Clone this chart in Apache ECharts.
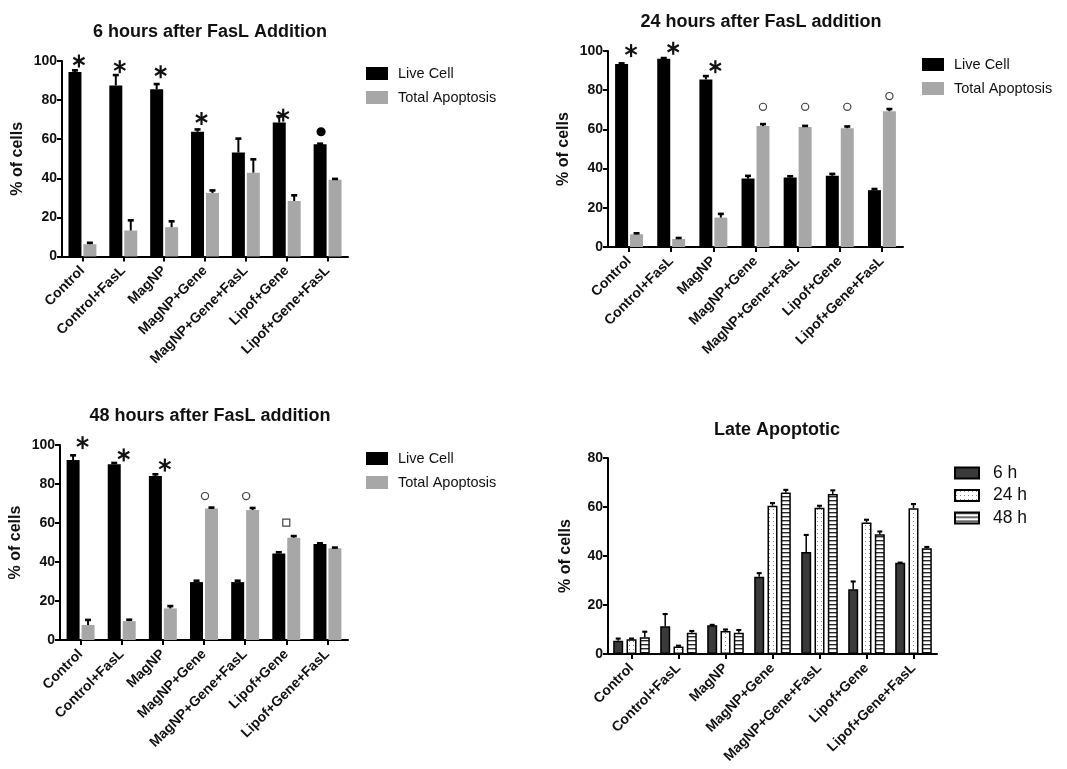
<!DOCTYPE html>
<html><head><meta charset="utf-8">
<script src="https://cdn.jsdelivr.net/npm/echarts@6/dist/echarts.min.js"></script>
<style>html,body{margin:0;padding:0;background:#fff}#c{width:1067px;height:769px}</style>
</head><body><div id="c"></div>
<script>
// ---------- data ----------
const categories = ['Control','Control+FasL','MagNP','MagNP+Gene','MagNP+Gene+FasL','Lipof+Gene','Lipof+Gene+FasL'];

const live6     = [94.4, 87.5, 85.5, 63.8, 53.2, 68.5, 57.4];
const live6Err  = [0.8, 5.3, 2.7, 1.2, 7.1, 3.3, 0.3];
const apop6     = [6.3, 13.3, 15.0, 32.5, 42.9, 28.4, 39.3];
const apop6Err  = [0.7, 5.2, 3.0, 1.3, 6.8, 2.9, 0.4];

const live24    = [93.4, 96.1, 85.5, 34.9, 35.4, 36.3, 29.0];
const live24Err = [0.3, 0.3, 1.7, 1.4, 0.7, 1.0, 0.6];
const apop24    = [6.5, 4.1, 15.0, 61.7, 61.2, 60.6, 69.3];
const apop24Err = [0.5, 0.5, 1.9, 1.0, 0.6, 0.9, 1.1];

const live48    = [92.3, 90.1, 84.1, 29.7, 29.7, 44.4, 49.2];
const live48Err = [2.4, 0.7, 0.9, 0.7, 0.7, 0.6, 0.4];
const apop48    = [7.7, 9.7, 16.2, 67.4, 66.7, 52.5, 47.0];
const apop48Err = [2.6, 0.7, 1.2, 0.5, 1.0, 0.8, 0.4];

const late6     = [5.4, 11.3, 11.7, 31.5, 41.6, 26.4, 37.2];
const late6Err  = [0.9, 5.0, 0.2, 1.5, 7.0, 3.2, 0.1];
const late24    = [6.0, 3.1, 9.4, 60.5, 59.7, 53.7, 59.5];
const late24Err = [0.3, 0.3, 0.6, 1.1, 0.8, 1.1, 1.7];
const late48    = [6.8, 8.7, 8.7, 65.9, 65.3, 48.9, 43.2];
const late48Err = [2.3, 0.7, 1.1, 1.1, 1.5, 1.1, 0.5];

// significance marks: [category index, y value]
const stars6    = [[0, 100.0], [1, 97.1], [2, 94.5], [3, 70.6], [5, 72.3]];
const dots6     = [[6, 63.8]];
const stars24   = [[0, 100.2], [1, 101.4], [2, 92.0]];
const rings24   = [[3, 71.5], [4, 71.5], [5, 71.5], [6, 77.0]];
const stars48   = [[0, 101.2], [1, 94.9], [2, 89.7]];
const rings48   = [[3, 73.8], [4, 73.8]];
const squares48 = [[5, 60.2]];

const titles = ['6 hours after FasL Addition', '24 hours after FasL addition', '48 hours after FasL addition', 'Late Apoptotic'];
const pairNames = ['Live Cell', 'Total Apoptosis'];
const lateNames = ['6 h', '24 h', '48 h'];
const yLabel = '% of cells';

// ---------- styling helpers ----------
const FONT = '"Liberation Sans", Arial, sans-serif';

function makePattern(kind) {
  const cv = document.createElement('canvas');
  cv.width = 4; cv.height = 4;
  const g = cv.getContext('2d');
  g.fillStyle = '#fff'; g.fillRect(0, 0, 4, 4);
  if (kind === 'dots') {
    g.fillStyle = '#8a8a8a'; g.fillRect(1, 1, 1, 1);
  } else {
    g.fillStyle = '#2a2a2a'; g.fillRect(0, 0, 4, 1.4);
  }
  return { image: cv, repeat: 'repeat' };
}

const grids = [
  { left: 62,  top: 61,  width: 286, height: 195.5 },
  { left: 608, top: 51,  width: 295, height: 196 },
  { left: 60,  top: 445, width: 288, height: 195 },
  { left: 608, top: 458, width: 329, height: 196 }
];
const yMax = [100, 100, 100, 80];
const nameGaps = [36, 36, 36, 34];

function errRender(offset, cap, lw) {
  return function (params, api) {
    const c = api.value(0), v = api.value(1), e = api.value(2);
    const p0 = api.coord([c, v]);
    const p1 = api.coord([c, v + e]);
    const x = p0[0] + offset;
    return { type: 'group', children: [
      { type: 'line', shape: { x1: x, y1: p0[1], x2: x, y2: p1[1] }, style: { stroke: '#000', lineWidth: lw } },
      { type: 'line', shape: { x1: x - cap / 2, y1: p1[1], x2: x + cap / 2, y2: p1[1] }, style: { stroke: '#000', lineWidth: lw + 0.6 } }
    ]};
  };
}

function markRender(kind, offset) {
  return function (params, api) {
    const p = api.coord([api.value(0), api.value(1)]);
    const x = p[0] + offset, y = p[1];
    if (kind === 'star') {
      const r = 6.5, ch = [];
      [90, 30, -30].forEach(a => {
        const rad = a * Math.PI / 180, dx = r * Math.cos(rad), dy = r * Math.sin(rad);
        ch.push({ type: 'line', shape: { x1: x - dx, y1: y - dy, x2: x + dx, y2: y + dy }, style: { stroke: '#111', lineWidth: 2.2 } });
      });
      return { type: 'group', children: ch };
    }
    if (kind === 'dot') return { type: 'circle', shape: { cx: x, cy: y, r: 4.6 }, style: { fill: '#000' } };
    if (kind === 'ring') return { type: 'circle', shape: { cx: x, cy: y, r: 3.6 }, style: { fill: 'none', stroke: '#444', lineWidth: 1.2 } };
    return { type: 'rect', shape: { x: x - 3.5, y: y - 3.5, width: 7, height: 7 }, style: { fill: 'none', stroke: '#444', lineWidth: 1.2 } };
  };
}

const xAxes = [], yAxes = [], series = [], titleOpts = [], legends = [];

grids.forEach((g, i) => {
  xAxes.push({
    type: 'category', gridIndex: i, data: categories,
    axisLine: { lineStyle: { color: '#000', width: 2 } },
    axisTick: { show: true, alignWithLabel: true, length: 5, lineStyle: { color: '#000', width: 2 } },
    axisLabel: { rotate: 45, interval: 0, margin: 12, color: '#111', fontFamily: FONT, fontWeight: 'bold', fontSize: 14 }
  });
  yAxes.push({
    type: 'value', gridIndex: i, min: 0, max: yMax[i], interval: 20,
    name: yLabel, nameLocation: 'middle', nameGap: nameGaps[i],
    nameTextStyle: { color: '#111', fontFamily: FONT, fontWeight: 'bold', fontSize: 16 },
    splitLine: { show: false },
    axisLine: { show: true, lineStyle: { color: '#000', width: 2 } },
    axisTick: { show: true, length: 5, lineStyle: { color: '#000', width: 2 } },
    axisLabel: { margin: 5, color: '#111', fontFamily: FONT, fontWeight: 'bold', fontSize: 14 }
  });
});

const titlePos = [[205, 18], [756, 8], [205, 402], [772, 416]];
titles.forEach((t, i) => titleOpts.push({
  text: t, left: titlePos[i][0], top: titlePos[i][1], textAlign: 'center',
  textStyle: { fontFamily: FONT, fontWeight: 'bold', fontSize: 18, color: '#111' }
}));

// pair panels
const pairData = [
  [live6, live6Err, apop6, apop6Err],
  [live24, live24Err, apop24, apop24Err],
  [live48, live48Err, apop48, apop48Err]
];
const pairColors = ['#000000', '#a7a7a7'];
const BW = 13, GAP = 0.15;
const pitch = BW * (1 + GAP);
pairData.forEach((d, i) => {
  [0, 1].forEach(k => {
    series.push({
      type: 'bar', name: pairNames[k], xAxisIndex: i, yAxisIndex: i,
      data: d[k * 2], barWidth: BW, barGap: (GAP * 100) + '%',
      itemStyle: { color: pairColors[k] }, z: 2
    });
  });
  [0, 1].forEach(k => {
    series.push({
      type: 'custom', name: 'err' + i + k, xAxisIndex: i, yAxisIndex: i, z: 3,
      renderItem: errRender((k - 0.5) * pitch, 6, 2),
      data: d[k * 2].map((v, j) => [j, v, d[k * 2 + 1][j]])
    });
  });
});

// marks
function addMarks(arr, kind, gi, offset) {
  series.push({ type: 'custom', name: 'mark' + gi + kind, xAxisIndex: gi, yAxisIndex: gi, z: 4, clip: false,
    renderItem: markRender(kind, offset), data: arr });
}
addMarks(stars6, 'star', 0, -3.5);
addMarks(dots6, 'dot', 0, -6.5);
addMarks(stars24, 'star', 1, 2);
addMarks(rings24, 'ring', 1, pitch / 2);
addMarks(stars48, 'star', 2, 2);
addMarks(rings48, 'ring', 2, 1);
addMarks(squares48, 'square', 2, 0);

// late apoptotic
const lateData = [[late6, late6Err], [late24, late24Err], [late48, late48Err]];
const lateFills = ['#3a3a3a', makePattern('dots'), makePattern('stripes')];
const LBW = 10, LGAP = 0.33, lpitch = LBW * (1 + LGAP);
lateData.forEach((d, k) => {
  series.push({
    type: 'bar', name: lateNames[k], xAxisIndex: 3, yAxisIndex: 3, data: d[0],
    barWidth: LBW, barGap: (LGAP * 100) + '%',
    itemStyle: { color: lateFills[k], borderColor: '#000', borderWidth: 1.5 }, z: 2
  });
});
lateData.forEach((d, k) => {
  series.push({
    type: 'custom', name: 'lerr' + k, xAxisIndex: 3, yAxisIndex: 3, z: 3,
    renderItem: errRender((k - 1) * lpitch, 5, 1.5),
    data: d[0].map((v, j) => [j, v, d[1][j]])
  });
});

const legendText = { fontFamily: FONT, fontSize: 14.5, color: '#111', padding: [0, 0, 0, 5] };
[[366, 66], [922, 57], [366, 451]].forEach(p => legends.push({
  data: pairNames, orient: 'vertical', left: p[0], top: p[1], icon: 'rect', padding: 0,
  itemWidth: 22, itemHeight: 13, itemGap: 9, textStyle: legendText, selectedMode: false
}));
legends.push({
  data: lateNames, orient: 'vertical', left: 954, top: 464, icon: 'rect', padding: 0,
  itemWidth: 24, itemHeight: 11, itemGap: 4.5,
  textStyle: { fontFamily: FONT, fontSize: 17.5, color: '#111', padding: [0, 0, 0, 9] }, selectedMode: false
});

const chart = echarts.init(document.getElementById('c'), null, { renderer: 'canvas' });
chart.setOption({
  animation: false,
  backgroundColor: '#fff',
  title: titleOpts,
  legend: legends,
  grid: grids,
  xAxis: xAxes,
  yAxis: yAxes,
  series: series
});
</script>
</body></html>
